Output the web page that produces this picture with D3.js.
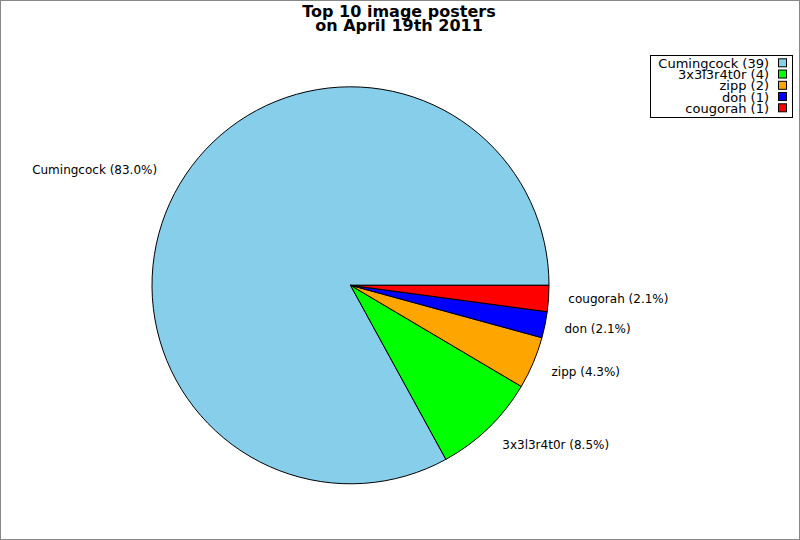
<!DOCTYPE html>
<html><head><meta charset="utf-8">
<script src="https://cdn.jsdelivr.net/npm/d3@7"></script>
<style>body{margin:0;background:#fff}svg{display:block}</style>
</head><body>
<svg id="c" width="800" height="540"></svg>
<script>
const names = ["Cumingcock", "3x3l3r4t0r", "zipp", "don", "cougorah"];
const counts = [39, 4, 2, 1, 1];
const colors = ["#87CEEB", "#00FF00", "#FFA500", "#0000FF", "#FF0000"];
const titleLines = ["Top 10 image posters", "on April 19th 2011"];

const svg = d3.select("#c");
const W = 800, H = 540;
svg.append("rect").attr("x", 0.5).attr("y", 0.5).attr("width", W - 1).attr("height", H - 1)
  .attr("fill", "#fff").attr("stroke", "#888").attr("stroke-width", 1);

const cx = 350.5, cy = 285.3, R = 198.5;
const total = d3.sum(counts);
const data = names.map((n, i) => ({ name: n, value: counts[i], color: colors[i] }));
const pie = d3.pie().sort(null).value(d => d.value)
  .startAngle(Math.PI / 2).endAngle(Math.PI / 2 - 2 * Math.PI);
const arcs = pie(data);
const arc = d3.arc().innerRadius(0).outerRadius(R);
const g = svg.append("g").attr("transform", `translate(${cx},${cy})`);
g.selectAll("path").data(arcs).join("path")
  .attr("d", arc).attr("fill", d => d.data.color)
  .attr("stroke", "#000").attr("stroke-width", 1).attr("stroke-linejoin", "round");

const fmt = d3.format(".1f");
const lrx = R * 1.1, lry = R * 1.13;
g.selectAll("text.lbl").data(arcs).join("text")
  .attr("class", "lbl")
  .each(function (d) {
    const a = (d.startAngle + d.endAngle) / 2;
    const x = lrx * Math.sin(a), y = -lry * Math.cos(a) - 1.5;
    d3.select(this).attr("x", x).attr("y", y)
      .attr("dx", x < 0 ? -5.5 : 0)
      .attr("text-anchor", x < 0 ? "end" : "start");
  })
  .attr("dy", "0.35em")
  .attr("font-family", "DejaVu Sans").attr("font-size", 12).attr("fill", "#000")
  .text(d => `${d.data.name} (${fmt(d.data.value / total * 100)}%)`);

svg.selectAll("text.title").data(titleLines).join("text")
  .attr("class", "title")
  .attr("x", 399).attr("y", (d, i) => 16.5 + i * 14)
  .attr("text-anchor", "middle")
  .attr("font-family", "DejaVu Sans").attr("font-weight", "bold").attr("font-size", 16)
  .attr("fill", "#000").text(d => d);

// legend
const lg = svg.append("g");
lg.append("rect").attr("x", 650.5).attr("y", 55.5).attr("width", 142).attr("height", 62)
  .attr("fill", "#fff").attr("stroke", "#000").attr("stroke-width", 1);
const ly = d3.scalePoint().domain(names).range([63.3, 108.3]);
lg.selectAll("text").data(data).join("text")
  .attr("x", 769).attr("y", d => ly(d.name)).attr("dy", "0.35em")
  .attr("text-anchor", "end")
  .attr("font-family", "DejaVu Sans").attr("font-size", 13).attr("fill", "#000")
  .text(d => `${d.name} (${d.value})`);
lg.selectAll("rect.sw").data(data).join("rect")
  .attr("class", "sw")
  .attr("x", 778.5).attr("y", d => ly(d.name) - 4.5).attr("width", 8).attr("height", 8)
  .attr("fill", d => d.color).attr("stroke", "#000").attr("stroke-width", 1);
</script>
</body></html>
